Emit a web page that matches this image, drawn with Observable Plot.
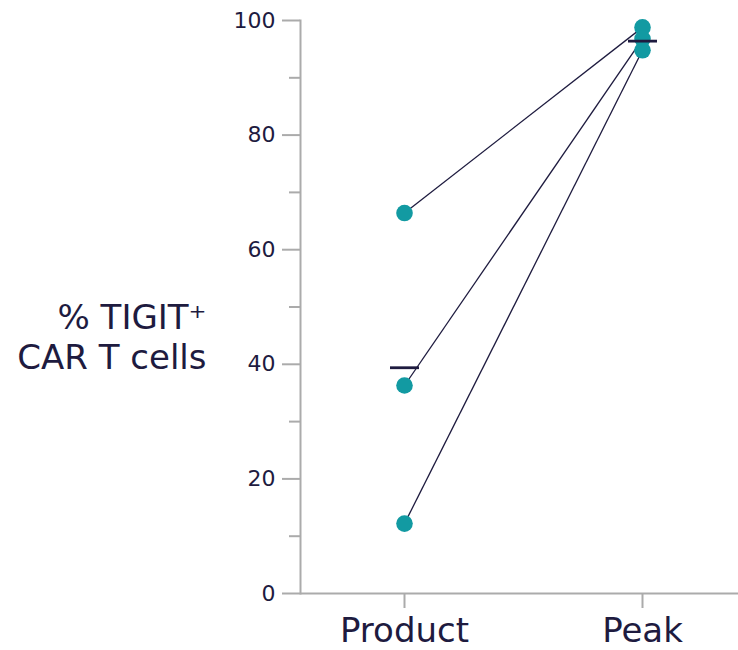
<!DOCTYPE html>
<html><head><meta charset="utf-8">
<script src="https://cdn.jsdelivr.net/npm/d3@7"></script>
<script src="https://cdn.jsdelivr.net/npm/@observablehq/plot@0.6"></script>
<style>body{margin:0;background:#fff;}</style>
</head><body><div id="chart"></div>
<script>
const categories = ["Product", "Peak"];
const productValues = [66.4, 36.3, 12.2];
const peakValues = [98.8, 96.8, 94.8];
const meanValues = [39.4, 96.4];
const majorTicks = [0, 20, 40, 60, 80, 100];
const minorTicks = [10, 30, 50, 70, 90];
const yLabel = "% TIGIT⁺\nCAR T cells";

const navy = "#1e1b3f";
const teal = "#129aa2";
const gray = "#ababab";

const points = [];
productValues.forEach((v, i) => {
  points.push({cat: categories[0], value: v});
  points.push({cat: categories[1], value: peakValues[i]});
});
const pairs = productValues.map((v, i) => ({x1: categories[0], y1: v, x2: categories[1], y2: peakValues[i]}));
const means = categories.map((c, i) => ({cat: c, value: meanValues[i]}));
const hbar = {draw(ctx) { ctx.moveTo(-14.5, 0); ctx.lineTo(14.5, 0); }};

const chart = Plot.plot({
  width: 738, height: 650,
  marginTop: 20, marginBottom: 57, marginLeft: 300, marginRight: 0,
  style: {fontFamily: "DejaVu Sans", color: navy, background: "white"},
  x: {type: "point", domain: categories, range: [403.3, 641.7], padding: 0},
  y: {domain: [0, 100]},
  marks: [
    Plot.ruleY([0], {stroke: gray, strokeWidth: 2}),
    Plot.frame({anchor: "left", stroke: gray, strokeWidth: 2}),
    Plot.axisY(majorTicks, {tickSize: 18, tickPadding: 7, fontSize: 22, stroke: gray, strokeWidth: 2, fill: navy, label: null}),
    Plot.axisY(minorTicks, {tickSize: 11, tickFormat: () => "", stroke: gray, strokeWidth: 2, label: null}),
    Plot.axisX({tickSize: 15, tickPadding: 9, fontSize: 34, stroke: gray, strokeWidth: 2, fill: navy, label: null}),
    Plot.text([yLabel], {frameAnchor: "left", dx: -94, dy: 29, textAnchor: "end", fontSize: 34, lineHeight: 1.2, fill: navy}),
    Plot.link(pairs, {x1: "x1", y1: "y1", x2: "x2", y2: "y2", stroke: navy, strokeWidth: 1.3}),
    Plot.dot(points, {x: "cat", y: "value", r: 8.3, fill: teal, stroke: null}),
    Plot.dot(means, {x: "cat", y: "value", symbol: hbar, stroke: navy, strokeWidth: 2.8, fill: "none"})
  ]
});
document.getElementById("chart").appendChild(chart);
</script>
</body></html>
